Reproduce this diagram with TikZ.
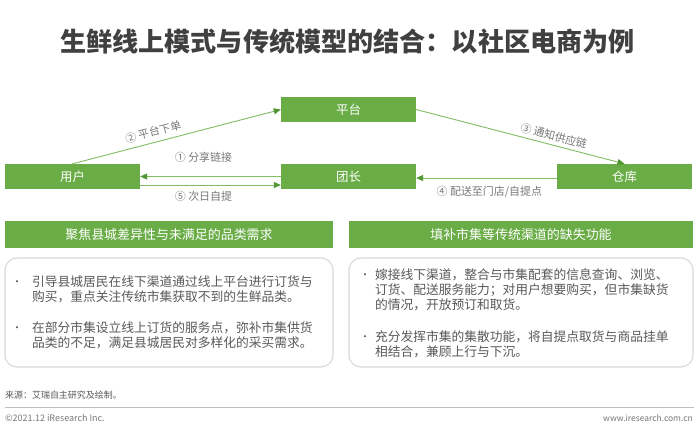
\documentclass[tikz,border=0pt]{standalone}
\usepackage{fontspec}
\setmainfont{Noto Sans CJK SC}
\usetikzlibrary{arrows.meta}
\definecolor{boxgreen}{RGB}{106,173,70}
\definecolor{linegreen}{RGB}{130,188,100}
\definecolor{headgreen}{RGB}{80,150,50}
\definecolor{titlegray}{RGB}{64,64,64}
\definecolor{lblgray}{RGB}{120,120,120}
\definecolor{bodygray}{RGB}{89,89,89}
\definecolor{bordergray}{RGB}{217,217,217}
\definecolor{rulegray}{RGB}{191,191,191}
\tikzset{
  greenbox/.style={fill=boxgreen, text=white, minimum width=135bp, minimum height=25bp, inner sep=0pt, font=\fontsize{12.5}{14}\selectfont},
  arr/.style={draw=linegreen, line width=0.9bp, -{Triangle[length=7bp,width=6bp,color=headgreen]}},
  lbl/.style={text=lblgray, inner sep=0pt, font=\fontsize{11}{13}\selectfont},
  hdr/.style={fill=boxgreen, text=white, minimum height=27bp, inner sep=0pt, font=\fontsize{13}{15}\selectfont},
  panel/.style={draw=bordergray, line width=1.1bp, rounded corners=12bp, minimum height=109bp, inner sep=0pt},
  bodytxt/.style={text=bodygray, inner sep=0pt, align=left, anchor=north west, font=\fontsize{12.8}{15}\selectfont},
  bullet/.style={text=bodygray, inner sep=0pt, font=\fontsize{10}{12}\selectfont},
  foot/.style={inner sep=0pt, font=\fontsize{9}{11}\selectfont}
}
\begin{document}
\begin{tikzpicture}[x=1bp,y=-1bp]
\useasboundingbox[fill=white] (0,0) rectangle (700,431);
% title
\node[text=titlegray, inner sep=0pt, font=\fontsize{26.2}{31}\selectfont\bfseries] (title) at (347.5,42) {生鲜线上模式与传统模型的结合：以社区电商为例};
% diagram boxes
\node[greenbox] (pingtai) at (348.5,109.5) {平台};
\node[greenbox] (yonghu) at (72.5,176.5) {用户};
\node[greenbox] (tuanzhang) at (348.5,176.5) {团长};
\node[greenbox] (cangku) at (624.5,176.5) {仓库};
% connectors
\draw[arr] (yonghu.north) -- node[lbl, sloped, pos=0.4, above=5bp] (l2) {② 平台下单} (pingtai.west);
\draw[arr] (pingtai.east) -- node[lbl, sloped, pos=0.65, above=3.5bp] (l3) {③ 通知供应链} (cangku.north);
\draw[arr] (tuanzhang.west) -- node[lbl, pos=0.55, above=13.5bp] (l1) {① 分享链接} (yonghu.east);
\draw[arr] ([yshift=-8.5bp]yonghu.east) -- node[lbl, pos=0.45, below=6bp] (l5) {⑤ 次日自提} ([yshift=-8.5bp]tuanzhang.west);
\draw[arr] ([yshift=-1.5bp]cangku.west) -- node[lbl, pos=0.48, below=8bp] (l4) {④ 配送至门店/自提点} ([yshift=-1.5bp]tuanzhang.east);
% headers
\node[hdr, minimum width=328bp] (h1) at (169,234.5) {聚焦县城差异性与未满足的品类需求};
\node[hdr, minimum width=344bp] (h2) at (521,234.5) {填补市集等传统渠道的缺失功能};
% panels
\node[panel, minimum width=328bp] (p1) at (169,312.5) {};
\node[panel, minimum width=344bp] (p2) at (521,312.5) {};
% left bullets
\node[bullet] (b1) at (17,283) {•};
\node[bodytxt] (t1) at (32,275.5) {引导县城居民在线下渠道通过线上平台进行订货与\\购买，重点关注传统市集获取不到的生鲜品类。};
\node[bullet] (b2) at (17,329.3) {•};
\node[bodytxt] (t2) at (32,321.8) {在部分市集设立线上订货的服务点，弥补市集供货\\品类的不足，满足县城居民对多样化的采买需求。};
% right bullets
\node[bullet] (b3) at (365,276) {•};
\node[bodytxt] (t3) at (375,268.5) {嫁接线下渠道，整合与市集配套的信息查询、浏览、\\订货、配送服务能力；对用户想要购买，但市集缺货\\的情况，开放预订和取货。};
\node[bullet] (b4) at (365,338) {•};
\node[bodytxt] (t4) at (375,330.5) {充分发挥市集的集散功能，将自提点取货与商品挂单\\相结合，兼顾上行与下沉。};
% footer
\node[foot, text=bodygray, anchor=west] (src) at (5,395) {来源：艾瑞自主研究及绘制。};
\coordinate (rl) at (5,407.5);
\coordinate (rr) at (694,407.5);
\draw[rulegray, line width=1bp] (rl) -- (rr);
\node[foot, text=lblgray, anchor=west] (copy) at (5,418) {©2021.12 iResearch Inc.};
\node[foot, text=lblgray, anchor=east, font=\fontsize{8.5}{10}\selectfont] (web) at (693,418) {www.iresearch.com.cn};
\end{tikzpicture}
\end{document}
